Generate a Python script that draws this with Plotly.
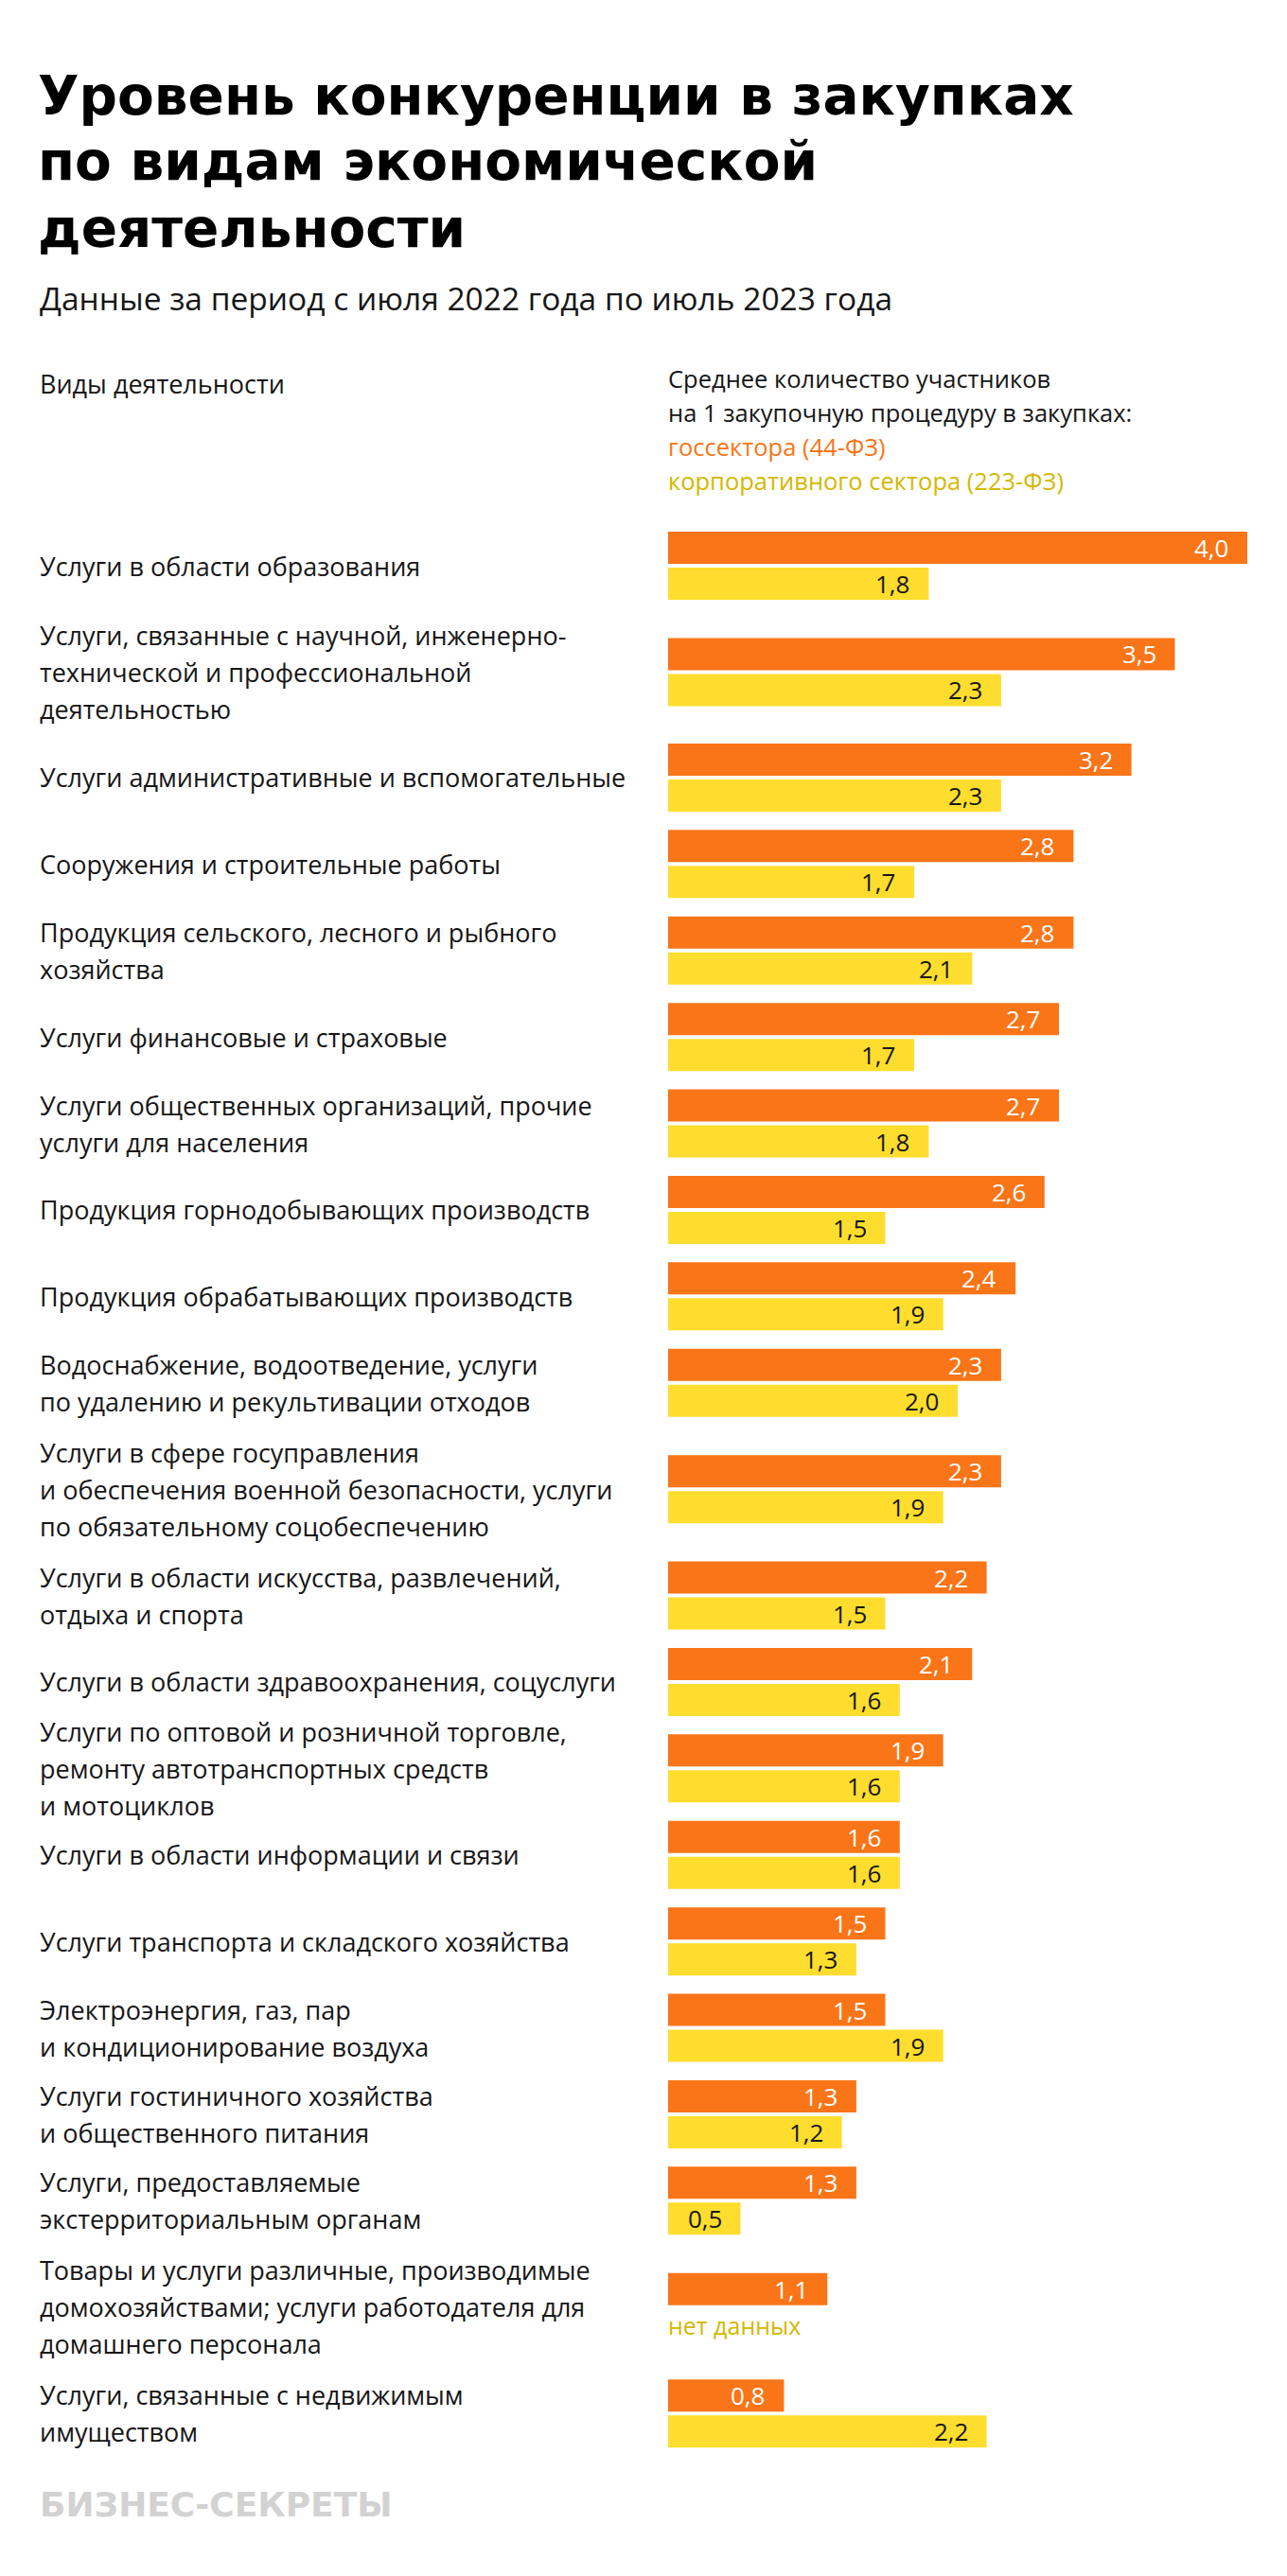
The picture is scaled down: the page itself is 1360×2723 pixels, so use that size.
import plotly.graph_objects as go

# ---------------- data ----------------
categories = [
    "Услуги в области образования",
    "Услуги, связанные с научной, инженерно-<br>технической и профессиональной<br>деятельностью",
    "Услуги административные и вспомогательные",
    "Сооружения и строительные работы",
    "Продукция сельского, лесного и рыбного<br>хозяйства",
    "Услуги финансовые и страховые",
    "Услуги общественных организаций, прочие<br>услуги для населения",
    "Продукция горнодобывающих производств",
    "Продукция обрабатывающих производств",
    "Водоснабжение, водоотведение, услуги<br>по удалению и рекультивации отходов",
    "Услуги в сфере госуправления<br>и обеспечения военной безопасности, услуги<br>по обязательному соцобеспечению",
    "Услуги в области искусства, развлечений,<br>отдыха и спорта",
    "Услуги в области здравоохранения, соцуслуги",
    "Услуги по оптовой и розничной торговле,<br>ремонту автотранспортных средств<br>и мотоциклов",
    "Услуги в области информации и связи",
    "Услуги транспорта и складского хозяйства",
    "Электроэнергия, газ, пар<br>и кондиционирование воздуха",
    "Услуги гостиничного хозяйства<br>и общественного питания",
    "Услуги, предоставляемые<br>экстерриториальным органам",
    "Товары и услуги различные, производимые<br>домохозяйствами; услуги работодателя для<br>домашнего персонала",
    "Услуги, связанные с недвижимым<br>имуществом",
]
gov_44fz = [4.0, 3.5, 3.2, 2.8, 2.8, 2.7, 2.7, 2.6, 2.4, 2.3, 2.3, 2.2, 2.1, 1.9, 1.6, 1.5, 1.5, 1.3, 1.3, 1.1, 0.8]
corp_223fz = [1.8, 2.3, 2.3, 1.7, 2.1, 1.7, 1.8, 1.5, 1.9, 2.0, 1.9, 1.5, 1.6, 1.6, 1.6, 1.3, 1.9, 1.2, 0.5, None, 2.2]

title_lines = ["Уровень конкуренции в закупках", "по видам экономической", "деятельности"]
subtitle = "Данные за период с июля 2022 года по июль 2023 года"
left_header = "Виды деятельности"
right_header = ["Среднее количество участников", "на 1 закупочную процедуру в закупках:"]
legend_gov = "госсектора (44-ФЗ)"
legend_corp = "корпоративного сектора (223-ФЗ)"
no_data = "нет данных"
logo = "БИЗНЕС-СЕКРЕТЫ"

# ---------------- layout / style ----------------
PAGE_W, PAGE_H = 1360, 2723
OFF = 8                         # default body margin of the html page
W, H = PAGE_W - OFF, PAGE_H - OFF
ORANGE = "#F97518"
YELLOW = "#FFDD2E"
GOLD = "#D4B800"
TEXT = "#161616"
FONT = "Open Sans"

UNIT_PX = 91.4                 # px per normal row step
FIRST_CENTER_PX = 598 - OFF    # px of first group centre (figure coords)
# row step before each group (1 = normal, larger around some multi-line labels)
step_before = [0, 1.23, 1.22, 1, 1, 1, 1, 1, 1, 1, 1.23, 1.23, 1, 1, 1, 1, 1, 1, 1, 1.23, 1.23]
pos = []
acc = 0.0
for s in step_before:
    acc += s
    pos.append(acc)

BAR_W = 34 / UNIT_PX
BAR_GAP = 4 / UNIT_PX
LINE_H = 39 / UNIT_PX

y_top = -FIRST_CENTER_PX / UNIT_PX
y_bot = (H - FIRST_CENTER_PX) / UNIT_PX

X_START_PX, PX_PER_UNIT = 706 - OFF, 153.0
x_max = (W - X_START_PX) / PX_PER_UNIT


def paper_y(px_page):
    return 1 - (px_page - OFF) / H


def paper_x(px_page):
    return (px_page - OFF) / W


fig = go.Figure()
fig.add_trace(go.Bar(
    y=pos, x=gov_44fz, orientation="h", marker=dict(color=ORANGE, line=dict(width=0)),
    width=BAR_W, offset=-(BAR_W + BAR_GAP / 2), name=legend_gov, hoverinfo="x",
))
fig.add_trace(go.Bar(
    y=pos, x=corp_223fz, orientation="h", marker=dict(color=YELLOW, line=dict(width=0)),
    width=BAR_W, offset=BAR_GAP / 2, name=legend_corp, hoverinfo="x",
))

ann = []
# value labels
for p, v in zip(pos, gov_44fz):
    ann.append(dict(x=v, y=p - (BAR_W + BAR_GAP) / 2, xref="x", yref="y",
                    text=f"{v:.1f}".replace(".", ","), showarrow=False,
                    xanchor="right", yanchor="middle", xshift=-18,
                    font=dict(family=FONT, size=26, color="white")))
for p, v in zip(pos, corp_223fz):
    if v is None:
        ann.append(dict(x=0, y=p + (BAR_W + BAR_GAP) / 2, xref="x", yref="y",
                        text=no_data, showarrow=False, xanchor="left", yanchor="middle",
                        xshift=-2, font=dict(family=FONT, size=25, color=GOLD)))
    else:
        ann.append(dict(x=v, y=p + (BAR_W + BAR_GAP) / 2, xref="x", yref="y",
                        text=f"{v:.1f}".replace(".", ","), showarrow=False,
                        xanchor="right", yanchor="middle", xshift=-18,
                        font=dict(family=FONT, size=26, color=TEXT)))

# category labels (one annotation per line for exact leading)
LABEL_X = paper_x(42)
for p, cat in zip(pos, categories):
    lines = cat.split("<br>")
    n = len(lines)
    for k, line in enumerate(lines):
        ann.append(dict(x=LABEL_X, y=p + (k - (n - 1) / 2) * LINE_H, xref="paper", yref="y",
                        text=line, showarrow=False, xanchor="left", yanchor="middle", xshift=-2,
                        font=dict(family=FONT, size=27, color=TEXT)))

# title
for i, t in enumerate(title_lines):
    ann.append(dict(x=LABEL_X, y=paper_y(101 + 70 * i), xref="paper", yref="paper",
                    text=t, showarrow=False, xanchor="left", yanchor="middle", xshift=-4,
                    font=dict(family="DejaVu Sans", size=56.5, color="#000", weight="bold")))
ann.append(dict(x=LABEL_X, y=paper_y(315), xref="paper", yref="paper", text=subtitle,
                showarrow=False, xanchor="left", yanchor="middle", xshift=-2,
                font=dict(family=FONT, size=33.5, color=TEXT)))
ann.append(dict(x=LABEL_X, y=paper_y(405), xref="paper", yref="paper", text=left_header,
                showarrow=False, xanchor="left", yanchor="middle", xshift=-2,
                font=dict(family=FONT, size=27, color=TEXT)))
RX = paper_x(706)
for i, (t, c) in enumerate([(right_header[0], TEXT), (right_header[1], TEXT),
                            (legend_gov, ORANGE), (legend_corp, GOLD)]):
    ann.append(dict(x=RX, y=paper_y(400 + 36 * i), xref="paper", yref="paper", text=t,
                    showarrow=False, xanchor="left", yanchor="middle", xshift=-2,
                    font=dict(family=FONT, size=25.5, color=c)))
ann.append(dict(x=LABEL_X, y=paper_y(2647), xref="paper", yref="paper", text=logo,
                showarrow=False, xanchor="left", yanchor="middle", xshift=-2,
                font=dict(family="DejaVu Sans", size=36, color="#D2D2D2", weight="bold")))

fig.update_layout(
    width=W, height=H,
    margin=dict(l=0, r=0, t=0, b=0),
    paper_bgcolor="white", plot_bgcolor="white",
    showlegend=False, barmode="overlay",
    xaxis=dict(domain=[X_START_PX / W, 1], range=[0, x_max], visible=False, fixedrange=True),
    yaxis=dict(domain=[0, 1], range=[y_bot, y_top], visible=False, fixedrange=True),
    annotations=ann,
)

fig.write_html("out.html")
